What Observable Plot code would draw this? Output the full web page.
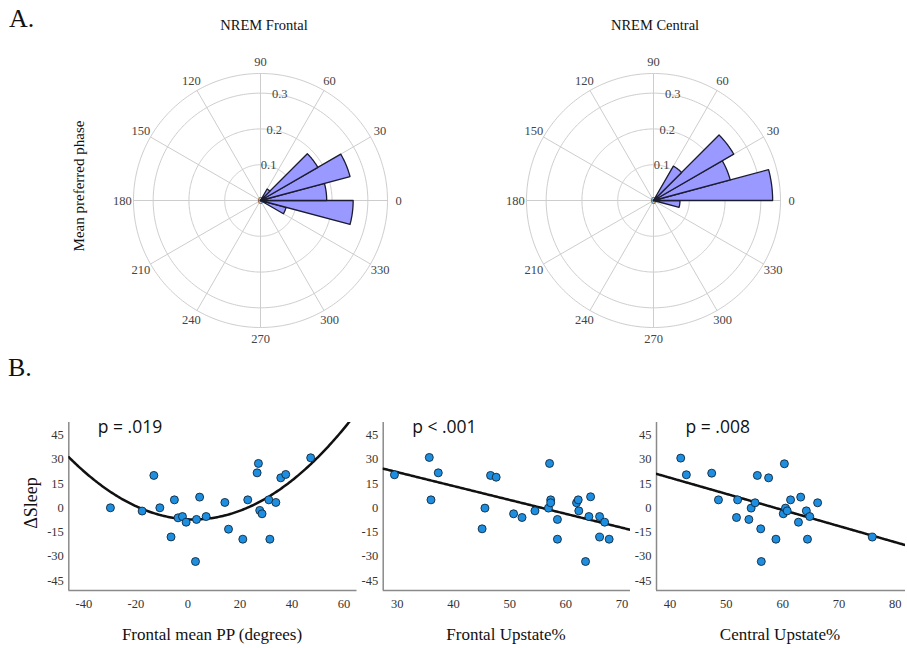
<!DOCTYPE html>
<html><head><meta charset="utf-8">
<script src="https://cdn.jsdelivr.net/npm/d3@7"></script>
<script src="https://cdn.jsdelivr.net/npm/@observablehq/plot@0.6"></script>
<style>
body{margin:0;background:#fff;}
#fig{position:relative;width:907px;height:648px;overflow:hidden;background:#fff;}
</style></head><body><div id="fig"></div>
<script>
// ---------- Data: A. polar histograms of mean preferred phase ----------
const binStartDeg = [-30, -15, 0, 15, 30, 45];
const binWidthDeg = 15;
const frontalProportion = [0.074, 0.259, 0.185, 0.259, 0.185, 0.037];
const centralProportion = [0.000, 0.074, 0.333, 0.222, 0.259, 0.111];
const ringTicks = [0.1, 0.2, 0.3];
const outerRing = 0.355;
const angleTicks = [0, 30, 60, 90, 120, 150, 180, 210, 240, 270, 300, 330];

// ---------- Data: B. scatter panels ----------
const yTicks = [-45, -30, -15, 0, 15, 30, 45];
const frontalPP = [-29.8,-17.6,-13.1,-10.8,-5.2,-6.5,-3.8,-2.1,-0.7,2.9,3.3,4.5,7.0,14.2,15.6,21.1,23.0,26.6,27.1,27.6,28.5,31.1,31.5,33.8,35.7,37.6,47.2];
const dSleepPP  = [0,-2,20,0,4.9,-18,-6.2,-5.4,-8.9,-33.2,-7.2,6.6,-5.4,3.3,-13.2,-19.4,4.9,21.6,27.4,-1.6,-3.7,4.9,-19.4,3.3,18.5,20.6,30.9];
const ppTicks = [-40, -20, 0, 20, 40, 60];
const ppQuadFit = [0.01678, -0.0705, -7.13]; // a, b, c of y = a x^2 + b x + c

const frontalUp = [29.5,35.7,36.0,37.3,45.1,45.6,46.6,47.6,50.7,52.2,54.5,56.9,57.1,57.3,57.3,58.5,58.5,61.9,62.2,62.3,63.5,64.1,64.4,66.0,66.0,66.9,67.7];
const dSleepFU  = [20.4,31.1,4.9,21.6,-13,-0.2,20,18.9,-3.7,-6,-1.9,-0.2,27.4,4.9,3.1,-7.2,-19.4,3.1,4.9,-1.9,-33.2,-5.4,6.8,-5.4,-18.1,-8.9,-19.4];
const fuTicks = [30, 40, 50, 60, 70];
const fuLinFit = [47.8, -0.859]; // intercept, slope

const centralUp = [41.9,42.9,47.4,48.6,51.8,52.0,54.0,54.4,55.1,55.5,56.1,56.2,57.5,58.8,60.1,60.3,60.5,60.8,61.4,62.8,63.2,64.2,64.4,64.8,66.2,75.9];
const dSleepCU  = [30.7,20.4,21.4,4.9,-6,4.9,-7.2,-0.2,3.1,20,-13,-33.2,18.5,-19.4,-3.7,27.2,-0.2,-1.9,4.9,-8.9,6.6,-1.9,-19.4,-5.4,3.1,-18.1];
const cuTicks = [40, 50, 60, 70, 80];
const cuLinFit = [58.4, -0.996];

const pLabels = ["p = .019", "p < .001", "p = .008"];

// ---------- helpers ----------
const fig = document.getElementById("fig");
const SERIF = "'Liberation Serif', 'Times New Roman', serif";
const SANS = "'Open Sans', 'Liberation Sans', sans-serif";
function place(el, left, top) {
  el.style.position = "absolute";
  el.style.left = left + "px";
  el.style.top = top + "px";
  el.style.overflow = "visible";
  el.style.maxWidth = "none";
  el.setAttribute("font-family", SERIF);
  el.style.setProperty("font-family", SERIF, "important");
  el.querySelectorAll("g, text, tspan").forEach(t => {
    const isP = pLabels.includes(t.textContent);
    const fam = (t.tagName === "text" && isP) ? SANS : SERIF;
    if (t.tagName === "g") { t.setAttribute("font-family", SERIF); return; }
    t.setAttribute("font-family", fam);
    t.style.setProperty("font-family", fam, "important");
  });
  fig.appendChild(el);
}
const rad = d => d * Math.PI / 180;

function polarChart(values) {
  const D = 0.45, S = 322;
  const wedges = [];
  binStartDeg.forEach((a0, i) => {
    const v = values[i];
    if (!(v > 0)) return;
    wedges.push({bin: i, x: 0, y: 0});
    for (let a = a0; a <= a0 + binWidthDeg + 1e-9; a += 0.5)
      wedges.push({bin: i, x: v * Math.cos(rad(a)), y: v * Math.sin(rad(a))});
    wedges.push({bin: i, x: 0, y: 0});
  });
  const rings = [...ringTicks, outerRing].flatMap(r =>
    d3.range(0, 361, 1).map(a => ({r, x: r * Math.cos(rad(a)), y: r * Math.sin(rad(a))})));
  const spokes = angleTicks.map(a => ({x2: outerRing * Math.cos(rad(a)), y2: outerRing * Math.sin(rad(a))}));
  const angLabels = angleTicks.map(a => ({t: String(a), x: 0.386 * Math.cos(rad(a)), y: 0.386 * Math.sin(rad(a))}));
  const ringLabels = ringTicks.map(r => ({t: String(r), x: r * Math.cos(rad(81)), y: r * Math.sin(rad(81))}));
  return Plot.plot({
    width: S, height: S, margin: 0,
    x: {domain: [-D, D], axis: null},
    y: {domain: [-D, D], axis: null},
    style: {background: "transparent", overflow: "visible"},
    marks: [
      Plot.line(rings, {x: "x", y: "y", z: "r", stroke: "#cdcdcd", strokeWidth: 1}),
      Plot.link(spokes, {x1: 0, y1: 0, x2: "x2", y2: "y2", stroke: "#cdcdcd", strokeWidth: 1}),
      Plot.text(["0"], {x: 0, y: 0, text: d => d, fontSize: 11, fill: "#444", fontFamily: SERIF}),
      Plot.line(wedges, {x: "x", y: "y", z: "bin", fill: "#9999ff", stroke: "#1c1c30", strokeWidth: 1.3}),
      Plot.text(ringLabels, {x: "x", y: "y", text: "t", dx: 2.5, fontSize: 12.5, fill: "#444", fontFamily: SERIF}),
      Plot.text(angLabels, {x: "x", y: "y", text: "t", fontSize: 12.5, fill: "#444", fontFamily: SERIF})
    ]
  });
}

function scatter({xs, ys, xDomain, xTicks, fitFn, width, marginLeft, marginRight, pLabel}) {
  const yDomain = [-51.1, 52.7];
  const pts = xs.map((x, i) => ({x, y: ys[i]}));
  const n = 200;
  const fitPts = d3.range(n + 1).map(i => {
    const x = xDomain[0] + (xDomain[1] - xDomain[0]) * i / n;
    return {x, y: fitFn(x)};
  });
  return Plot.plot({
    width, height: 220, marginLeft, marginRight, marginTop: 12, marginBottom: 40,
    x: {domain: xDomain, axis: null},
    y: {domain: yDomain, axis: null},
    style: {background: "transparent", overflow: "visible", color: "#333"},
    marks: [
      Plot.axisX(xTicks, {tickSize: 0, tickPadding: 9, tickFormat: d => String(d), label: null,
        fontFamily: SERIF, fontSize: 12.5, fill: "#333"}),
      Plot.axisY(yTicks, {tickSize: 0, tickPadding: 5, tickFormat: d => String(d), label: null,
        fontFamily: SERIF, fontSize: 12.5, fill: "#333"}),
      Plot.ruleX([xDomain[0]], {stroke: "#8a8a8a", strokeWidth: 1.5}),
      Plot.ruleY([yDomain[0]], {stroke: "#8a8a8a", strokeWidth: 1.5}),
      Plot.line(fitPts, {x: "x", y: "y", stroke: "#111", strokeWidth: 2.5, clip: true}),
      Plot.dot(pts, {x: "x", y: "y", r: 4, fill: "#1e8fe0", stroke: "#12283c", strokeWidth: 0.9}),
      Plot.text([pLabel], {frameAnchor: "top-left", text: d => d, dx: 29, dy: -2, lineAnchor: "top",
        fontSize: 17.5, fill: "#111", fontFamily: SANS})
    ]
  });
}

// ---------- A. polar plots ----------
place(polarChart(frontalProportion), 99, 39);
place(polarChart(centralProportion), 492.3, 39);

// ---------- B. scatter plots ----------
place(scatter({xs: frontalPP, ys: dSleepPP, xDomain: [-45.8, 65], xTicks: ppTicks,
  fitFn: x => ppQuadFit[0] * x * x + ppQuadFit[1] * x + ppQuadFit[2],
  width: 339.5, marginLeft: 48.3, marginRight: 3, pLabel: pLabels[0]}), 20, 410);
place(scatter({xs: frontalUp, ys: dSleepFU, xDomain: [27.5, 71.5], xTicks: fuTicks,
  fitFn: x => fuLinFit[0] + fuLinFit[1] * x,
  width: 276, marginLeft: 22.7, marginRight: 6, pLabel: pLabels[1]}), 360, 410);
place(scatter({xs: centralUp, ys: dSleepCU, xDomain: [37.6, 81.8], xTicks: cuTicks,
  fitFn: x => cuLinFit[0] + cuLinFit[1] * x,
  width: 271, marginLeft: 20, marginRight: 2, pLabel: pLabels[2]}), 636, 410);

// ---------- text overlay ----------
const ov = d3.create("svg").attr("width", 907).attr("height", 648)
  .style("position", "absolute").style("left", "0px").style("top", "0px")
  .style("pointer-events", "none").style("font-family", SERIF).style("fill", "#111");
const txt = (s, x, y, size, anchor = "start", rot = 0) => {
  ov.append("text").attr("transform", `translate(${x},${y}) rotate(${rot})`)
    .attr("text-anchor", anchor).attr("font-size", size).text(s);
};
txt("A.", 9, 27, 26);
txt("B.", 8, 376, 26);
txt("NREM Frontal", 264, 29.5, 14.5, "middle");
txt("NREM Central", 655, 29.5, 14.5, "middle");
txt("Mean preferred phase", 84, 186, 15, "middle", -90);
txt("\u0394Sleep", 37, 503, 18, "middle", -90);
txt("Frontal mean PP (degrees)", 212, 640, 17, "middle");
txt("Frontal Upstate%", 506, 640, 17, "middle");
txt("Central Upstate%", 780, 640, 17, "middle");
fig.appendChild(ov.node());
</script></body></html>
